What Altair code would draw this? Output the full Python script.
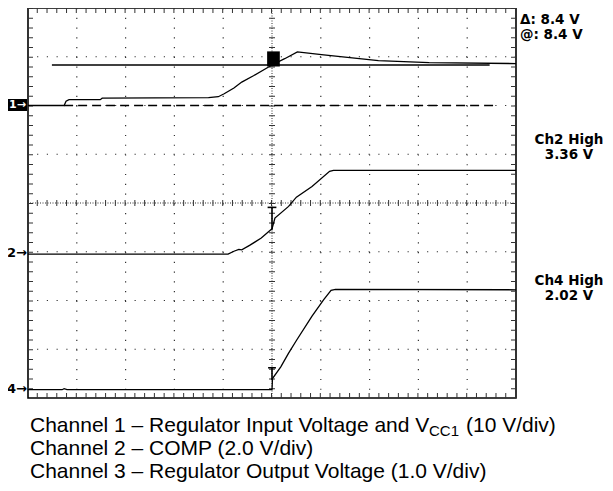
import altair as alt
import pandas as pd

# ---- data (time and level in graticule divisions) ----
ch1_t = [0, 0.74, 0.78, 0.84, 1.48, 1.52, 3.70, 3.90, 4.02, 4.22, 4.38, 4.62, 5.00, 5.26, 5.52, 6.06, 7.18, 8.22, 10]
ch1_v = [6.0, 6.0, 6.09, 6.12, 6.12, 6.15, 6.16, 6.18, 6.24, 6.36, 6.48, 6.61, 6.83, 6.96, 7.10, 7.04, 6.92, 6.88, 6.86]

ch2_t = [0, 4.10, 4.22, 4.32, 4.38, 4.54, 4.78, 4.94, 5.00, 5.06, 5.34, 5.50, 5.82, 6.18, 6.26, 10]
ch2_v = [2.95, 2.95, 3.01, 3.05, 3.04, 3.13, 3.28, 3.42, 3.47, 3.69, 3.93, 4.12, 4.34, 4.65, 4.67, 4.67]

ch4_t = [0, 0.70, 0.74, 0.80, 5.00, 5.01, 5.18, 5.34, 5.50, 5.82, 6.06, 6.21, 6.30, 10]
ch4_v = [0.17, 0.17, 0.19, 0.17, 0.17, 0.40, 0.64, 0.92, 1.18, 1.68, 2.02, 2.21, 2.23, 2.22]

ch1_ground = [0.74, 9.53, 6.0]      # x start, x end, level
cursor_line = [0.49, 9.46, 6.83]    # x start, x end, level
cursor_box = [4.90, 5.16, 6.80, 7.11]
ch2_mark = [5.0, 3.45, 3.91]
ch4_mark = [5.0, 0.37, 0.62]

grid_x = [1, 2, 3, 4, 6, 7, 8, 9]
grid_y = [1, 2, 3, 5, 6, 7]
center_x = [5]
center_y = [4]

readout = ["Δ: 8.4 V", "@: 8.4 V"]
ch2_lbl = ["Ch2 High", "3.36 V"]
ch4_lbl = ["Ch4 High", "2.02 V"]
caption = [
    "Channel 1 – Regulator Input Voltage and V",
    "CC1",
    "(10 V/div)",
    "Channel 2 – COMP (2.0 V/div)",
    "Channel 3 – Regulator Output Voltage (1.0 V/div)",
]

W, H = 488, 390
xs = alt.Scale(domain=[0, 10], nice=False, zero=False)
ys = alt.Scale(domain=[0, 8], nice=False, zero=False)
one = pd.DataFrame({"k": [0]})

def trace(t, v):
    df = pd.DataFrame({"t": t, "v": v, "i": range(len(t))})
    return alt.Chart(df).mark_line(color="black", strokeWidth=1.3).encode(
        x=alt.X("t:Q", scale=xs, axis=None),
        y=alt.Y("v:Q", scale=ys, axis=None),
        order="i:Q",
    )

dot = "#333333"
layers = []
# graticule dotted lines
layers.append(alt.Chart(pd.DataFrame({"g": grid_x})).mark_rule(color=dot, strokeWidth=1.2, strokeDash=[1.2, 8.56]).encode(
    x=alt.X("g:Q", scale=xs, axis=None)))
layers.append(alt.Chart(pd.DataFrame({"g": grid_y})).mark_rule(color=dot, strokeWidth=1.2, strokeDash=[1.2, 8.55]).encode(
    y=alt.Y("g:Q", scale=ys, axis=None)))
# center lines: dense dots plus ticks
layers.append(alt.Chart(pd.DataFrame({"g": center_x})).mark_rule(color=dot, strokeWidth=1, strokeDash=[1, 1.5]).encode(
    x=alt.X("g:Q", scale=xs, axis=None)))
layers.append(alt.Chart(pd.DataFrame({"g": center_y})).mark_rule(color=dot, strokeWidth=1, strokeDash=[1, 1.5]).encode(
    y=alt.Y("g:Q", scale=ys, axis=None)))
layers.append(alt.Chart(pd.DataFrame({"g": center_x})).mark_rule(color=dot, strokeWidth=6, strokeDash=[1, 8.75]).encode(
    x=alt.X("g:Q", scale=xs, axis=None)))
layers.append(alt.Chart(pd.DataFrame({"g": center_y})).mark_rule(color=dot, strokeWidth=6, strokeDash=[1, 8.76]).encode(
    y=alt.Y("g:Q", scale=ys, axis=None)))
# border ticks
layers.append(alt.Chart(one).mark_rule(color=dot, strokeWidth=5, strokeDash=[1, 8.75]).encode(x=alt.value(2.5)))
layers.append(alt.Chart(one).mark_rule(color=dot, strokeWidth=5, strokeDash=[1, 8.75]).encode(x=alt.value(W - 2.5)))
layers.append(alt.Chart(one).mark_rule(color=dot, strokeWidth=5, strokeDash=[1, 8.76]).encode(y=alt.value(2.5)))
layers.append(alt.Chart(one).mark_rule(color=dot, strokeWidth=5, strokeDash=[1, 8.76]).encode(y=alt.value(H - 2.5)))

# ch1 ground reference (dashed) and cursor line
gdf = pd.DataFrame({"x": [ch1_ground[0]], "x2": [ch1_ground[1]], "y": [ch1_ground[2]]})
layers.append(alt.Chart(gdf).mark_rule(color="black", strokeWidth=1.3, strokeDash=[9, 5]).encode(
    x=alt.X("x:Q", scale=xs, axis=None), x2="x2:Q", y=alt.Y("y:Q", scale=ys, axis=None)))
cdf = pd.DataFrame({"x": [cursor_line[0]], "x2": [cursor_line[1]], "y": [cursor_line[2]]})
layers.append(alt.Chart(cdf).mark_rule(color="black", strokeWidth=1.6).encode(
    x=alt.X("x:Q", scale=xs, axis=None), x2="x2:Q", y=alt.Y("y:Q", scale=ys, axis=None)))

# traces
layers += [trace(ch1_t, ch1_v), trace(ch2_t, ch2_v), trace(ch4_t, ch4_v)]

# cursor box
bdf = pd.DataFrame({"x": [cursor_box[0]], "x2": [cursor_box[1]], "y": [cursor_box[2]], "y2": [cursor_box[3]]})
layers.append(alt.Chart(bdf).mark_rect(color="black").encode(
    x=alt.X("x:Q", scale=xs, axis=None), x2="x2:Q",
    y=alt.Y("y:Q", scale=ys, axis=None), y2="y2:Q"))

# trigger markers (T shapes)
for m, hw in [(ch2_mark, 0.09), (ch4_mark, 0.08)]:
    sdf = pd.DataFrame({"x": [m[0]], "y": [m[1]], "y2": [m[2]]})
    layers.append(alt.Chart(sdf).mark_rule(color="black", strokeWidth=1.6).encode(
        x=alt.X("x:Q", scale=xs, axis=None), y=alt.Y("y:Q", scale=ys, axis=None), y2="y2:Q"))
    hdf = pd.DataFrame({"x": [m[0] - hw], "x2": [m[0] + hw], "y": [m[2]]})
    layers.append(alt.Chart(hdf).mark_rule(color="black", strokeWidth=1.6).encode(
        x=alt.X("x:Q", scale=xs, axis=None), x2="x2:Q", y=alt.Y("y:Q", scale=ys, axis=None)))

# channel markers at left
layers.append(alt.Chart(one).mark_rect(color="black").encode(
    x=alt.value(-20), x2=alt.value(-1), y=alt.value(91), y2=alt.value(103)))

def txt(s, x, y, size, font, weight="normal", align="left", color="black", baseline="alphabetic"):
    return alt.Chart(one).mark_text(
        font=font, fontSize=size, fontWeight=weight, align=align, baseline=baseline, color=color
    ).encode(x=alt.value(x), y=alt.value(y), text=alt.value(s))

scope = "DejaVu Sans"
layers.append(txt("1→", -10.5, 97, 11, "DejaVu Sans", "bold", "center", "white", "middle"))
layers.append(txt("2→", -1, 245, 13, "DejaVu Sans", "bold", "right", "black", "middle"))
layers.append(txt("4→", -1, 381, 13, "DejaVu Sans", "bold", "right", "black", "middle"))

layers.append(txt(readout[0], 492, 15.5, 13.5, scope, "bold"))
layers.append(txt(readout[1], 492, 30.5, 13.5, scope, "bold"))
layers.append(txt(ch2_lbl[0], 541, 135.5, 13.5, scope, "bold", "center"))
layers.append(txt(ch2_lbl[1], 541, 150.5, 13.5, scope, "bold", "center"))
layers.append(txt(ch4_lbl[0], 541, 276.5, 13.5, scope, "bold", "center"))
layers.append(txt(ch4_lbl[1], 541, 291.5, 13.5, scope, "bold", "center"))

cap_font = "Liberation Sans"
layers.append(txt(caption[0], 2, 423.5, 21, cap_font))
layers.append(txt(caption[1], 401, 427.5, 15, cap_font))
layers.append(txt(caption[2], 438, 423.5, 21, cap_font))
layers.append(txt(caption[3], 2, 446.5, 21, cap_font))
layers.append(txt(caption[4], 2, 469.5, 21, cap_font))

chart = alt.layer(*layers).properties(
    width=W, height=H,
    autosize=alt.AutoSizeParams(type="none"),
    padding={"left": 20, "top": 0, "right": 89, "bottom": 85},
).configure_view(stroke="black", strokeWidth=1.6)

chart.save("out.html", embed_options={"renderer": "svg", "actions": False})
